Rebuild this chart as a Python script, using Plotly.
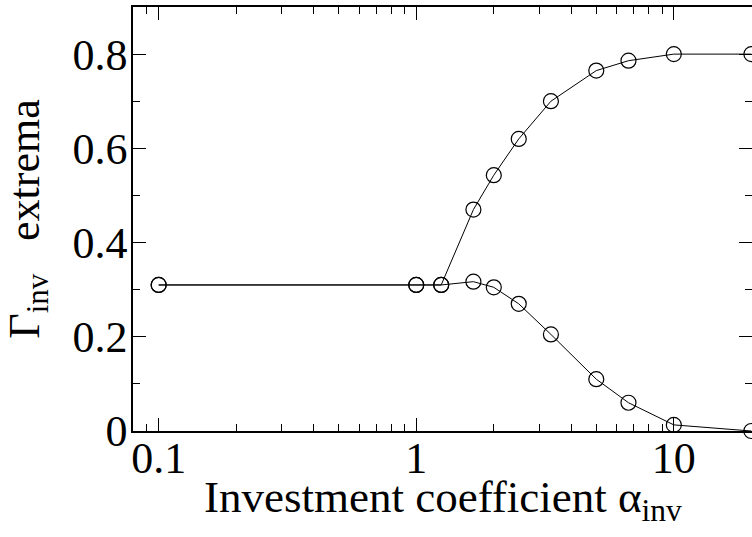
import numpy as np
import plotly.graph_objects as go

alpha = [0.1, 1.0, 1.25, 1.667, 2.0, 2.5, 3.333, 5.0, 6.667, 10.0, 20.0]
gamma_max = [0.31, 0.31, 0.31, 0.47, 0.543, 0.62, 0.70, 0.765, 0.786, 0.80, 0.80]
gamma_min = [0.31, 0.31, 0.31, 0.317, 0.305, 0.27, 0.205, 0.11, 0.06, 0.013, 0.0]

x_ticks = [0.1, 1, 10]
x_minor = [0.09] + [m * d for d in (0.1, 1, 10) for m in range(2, 10) if m * d <= 20]
y_ticks = [0, 0.2, 0.4, 0.6, 0.8]

FONT = "Liberation Serif, Times New Roman, Times, serif"
X_RANGE = [-1.0996, 1.3035]

fig = go.Figure()

for ys in (gamma_max, gamma_min):
    fig.add_trace(go.Scatter(
        x=alpha, y=ys,
        mode='lines+markers',
        line=dict(color='black', width=1),
        marker=dict(symbol='circle-open', size=15, color='black',
                    line=dict(width=1.2, color='black')),
        cliponaxis=False,
        showlegend=False,
    ))

# invisible copy so that the minor-tick axis gets drawn
fig.add_trace(go.Scatter(
    x=alpha, y=gamma_max, xaxis='x2', mode='markers',
    marker=dict(opacity=0), hoverinfo='skip', showlegend=False,
))

fig.update_layout(
    width=752, height=537,
    margin=dict(l=133, r=0, t=7, b=106),
    plot_bgcolor='white', paper_bgcolor='white',
    font=dict(family=FONT, color='black'),
    xaxis=dict(
        type='log',
        range=X_RANGE,
        automargin=False,
        tickmode='array', tickvals=x_ticks, ticktext=['0.1', '1', '10'],
        ticks='inside', ticklen=13, tickwidth=1.2, tickcolor='black',
        ticklabelstandoff=-13,
        showline=True, linecolor='black', linewidth=1.5, mirror='ticks',
        showgrid=False, zeroline=False,
        tickfont=dict(size=44, family=FONT),
    ),
    # minor ticks of the log axis
    xaxis2=dict(
        type='log',
        range=X_RANGE,
        overlaying='x', side='bottom',
        automargin=False,
        tickmode='array', tickvals=x_minor, showticklabels=False,
        ticks='inside', ticklen=7, tickwidth=1, tickcolor='black',
        showline=False, mirror='ticks',
        showgrid=False, zeroline=False,
    ),
    yaxis=dict(
        range=[0, 0.9],
        automargin=False,
        tickmode='array', tickvals=y_ticks, ticktext=['0', '0.2', '0.4', '0.6', '0.8'],
        ticks='inside', ticklen=13, tickwidth=1.2, tickcolor='black',
        ticklabelstandoff=-5,
        minor=dict(dtick=0.1, ticks='inside', ticklen=7,
                   tickwidth=1, tickcolor='black'),
        showline=True, linecolor='black', linewidth=1.5, mirror='ticks',
        showgrid=False, zeroline=False,
        tickfont=dict(size=44, family=FONT),
        title=dict(text='Γ<sub>inv</sub>\u00a0\u00a0\u00a0extrema',
                   font=dict(size=44, family=FONT), standoff=23),
    ),
    annotations=[dict(
        text='Investment coefficient α<sub>inv</sub>',
        xref='paper', yref='paper', x=0.5, y=-0.162,
        xanchor='center', yanchor='middle', showarrow=False,
        font=dict(size=45, family=FONT),
    )],
)

# drop the default page margin and scrollbars so the figure fills the window
fig.write_html("out.html",
               config={'displayModeBar': False},
               post_script="document.body.style.margin='0';"
                           "document.body.style.overflow='hidden';")
